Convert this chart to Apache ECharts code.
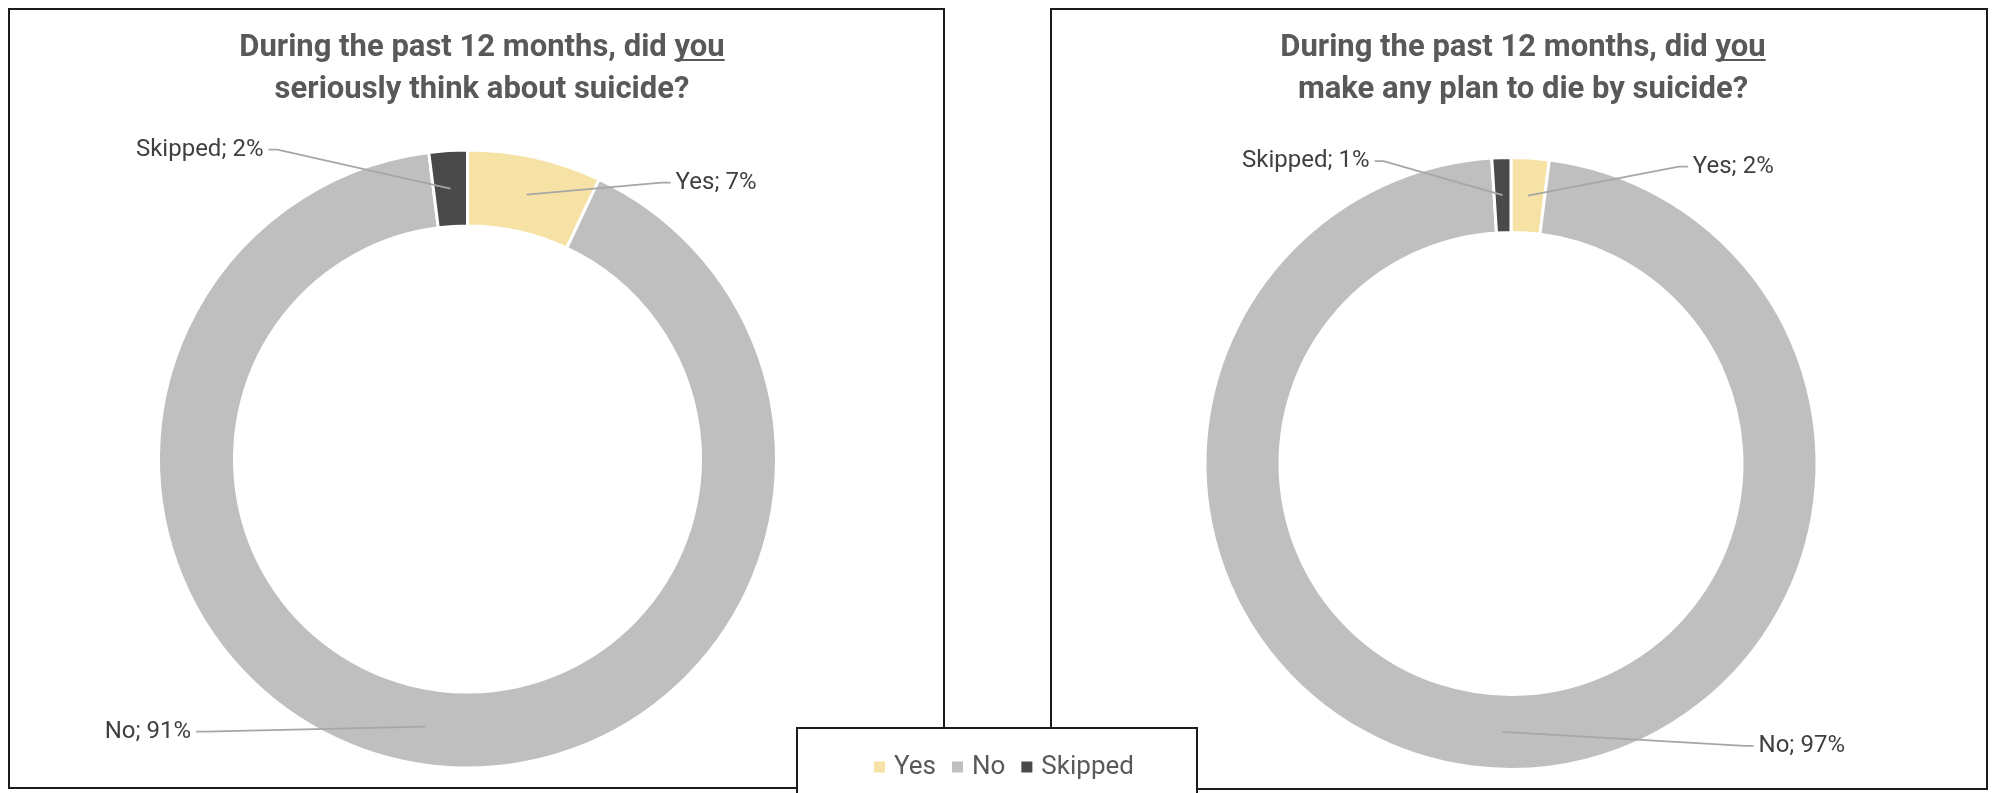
<!DOCTYPE html>
<html>
<head>
<meta charset="utf-8">
<title>Suicide ideation and planning, past 12 months</title>
<script src="https://cdn.jsdelivr.net/npm/echarts@6/dist/echarts.min.js"></script>
<style>
  html, body { margin: 0; padding: 0; background: #ffffff; }
  #chart { width: 1995px; height: 793px; }
</style>
</head>
<body>
<div id="chart"></div>
<script>
// Response categories, shared by both doughnuts
const categories = ['Yes', 'No', 'Skipped'];

// Percent of respondents for each category
const thinkValues = [7, 91, 2];   // seriously thought about suicide
const planValues  = [2, 97, 1];   // made a plan to die by suicide

// Question titles ({u|...} marks the underlined word)
const thinkTitle = 'During the past 12 months, did {u|you}\nseriously think about suicide?';
const planTitle  = 'During the past 12 months, did {u|you}\nmake any plan to die by suicide?';

const COLORS = ['#F7E2A6', '#BFBFBF', '#4A4A4A'];
const TITLE_COLOR = '#595959';
const LABEL_COLOR = '#404040';
const FONT = 'Roboto, "Noto Sans", "Liberation Sans", sans-serif';

// Doughnut geometry (px)
const leftPie  = { center: [467.5, 459], radius: [233, 309] };
const rightPie = { center: [1511, 463.5], radius: [231, 306] };

// Offsets from the slice anchor (middle of the ring) to the end of each leader line
const leftSpots  = [[144, -12], [-229, 5], [-182, -39]];
const rightSpots = [[160, -29], [251, 14], [-128, -34]];

function labelPlacer(pie, spots) {
  const midR = (pie.radius[0] + pie.radius[1]) / 2;
  return function (p) {
    const p0 = p.labelLinePoints[0];
    const vx = p0[0] - pie.center[0], vy = p0[1] - pie.center[1];
    const len = Math.sqrt(vx * vx + vy * vy) || 1;
    const ax = pie.center[0] + vx / len * midR;
    const ay = pie.center[1] + vy / len * midR;
    const s = spots[p.dataIndex];
    const ex = ax + s[0], ey = ay + s[1];
    const dir = s[0] >= 0 ? 1 : -1;
    return {
      x: ex + dir * 5,
      y: ey,
      align: dir > 0 ? 'left' : 'right',
      verticalAlign: 'middle',
      labelLinePoints: [[ax, ay], [ex - dir * 9, ey], [ex, ey]]
    };
  };
}

function toData(values) {
  return categories.map((name, i) => ({ name: name, value: values[i] }));
}

// The coloured ring itself
function doughnut(pie, values) {
  return {
    type: 'pie',
    z: 2,
    center: pie.center,
    radius: pie.radius,
    startAngle: 90,
    clockwise: true,
    itemStyle: { borderColor: '#ffffff', borderWidth: 3 },
    label: { show: false },
    labelLine: { show: false },
    emphasis: { disabled: true },
    data: toData(values)
  };
}

// Invisible twin of the ring that carries the data labels, so the
// leader lines are painted over the coloured slices
function labelRing(pie, values, spots) {
  const midR = (pie.radius[0] + pie.radius[1]) / 2;
  return {
    type: 'pie',
    z: 3,
    silent: true,
    center: pie.center,
    radius: [0, midR],
    startAngle: 90,
    clockwise: true,
    avoidLabelOverlap: false,
    itemStyle: { color: 'rgba(0,0,0,0)', borderWidth: 0 },
    label: {
      show: true,
      position: 'outside',
      formatter: '{b}; {c}%',
      color: LABEL_COLOR,
      fontFamily: FONT,
      fontSize: 24
    },
    labelLine: {
      show: true,
      lineStyle: { color: '#A6A6A6', width: 1.8 }
    },
    labelLayout: labelPlacer(pie, spots),
    emphasis: { disabled: true },
    tooltip: { show: false },
    data: toData(values)
  };
}

function underlineFill() {
  return new echarts.graphic.LinearGradient(0, 0, 0, 1, [
    { offset: 0, color: 'rgba(255,255,255,0)' },
    { offset: 0.85, color: 'rgba(255,255,255,0)' },
    { offset: 0.85, color: TITLE_COLOR },
    { offset: 0.91, color: TITLE_COLOR },
    { offset: 0.91, color: 'rgba(255,255,255,0)' },
    { offset: 1, color: 'rgba(255,255,255,0)' }
  ]);
}

function titleBlock(text, centerX) {
  return {
    text: text,
    left: centerX,
    top: 22,
    textAlign: 'center',
    textStyle: {
      color: TITLE_COLOR,
      fontFamily: FONT,
      fontWeight: 'bold',
      fontSize: 31,
      lineHeight: 42,
      rich: {
        u: {
          color: TITLE_COLOR,
          fontFamily: FONT,
          fontWeight: 'bold',
          fontSize: 31,
          lineHeight: 42,
          backgroundColor: underlineFill()
        }
      }
    }
  };
}

const chart = echarts.init(document.getElementById('chart'), null, { renderer: 'canvas' });

chart.setOption({
  animation: false,
  backgroundColor: '#ffffff',
  color: COLORS,
  title: [
    titleBlock(thinkTitle, 477),
    titleBlock(planTitle, 1518)
  ],
  legend: {
    data: categories,
    left: 867,
    top: 749,
    icon: 'rect',
    itemWidth: 13,
    itemHeight: 13,
    itemGap: 14,
    z: 20,
    textStyle: { color: TITLE_COLOR, fontFamily: FONT, fontSize: 26, padding: [0, 0, 0, 3] }
  },
  graphic: [
    {
      type: 'rect', z: 1, silent: true,
      shape: { x: 9, y: 9, width: 935, height: 779 },
      style: { fill: null, stroke: '#1c1c1c', lineWidth: 2 }
    },
    {
      type: 'rect', z: 1, silent: true,
      shape: { x: 1051, y: 9, width: 936, height: 780 },
      style: { fill: null, stroke: '#1c1c1c', lineWidth: 2 }
    },
    {
      type: 'rect', z: 10, silent: true,
      shape: { x: 797, y: 728, width: 400, height: 80 },
      style: { fill: '#ffffff', stroke: '#1c1c1c', lineWidth: 2 }
    }
  ],
  series: [
    doughnut(leftPie, thinkValues),
    doughnut(rightPie, planValues),
    labelRing(leftPie, thinkValues, leftSpots),
    labelRing(rightPie, planValues, rightSpots)
  ]
});
</script>
</body>
</html>
